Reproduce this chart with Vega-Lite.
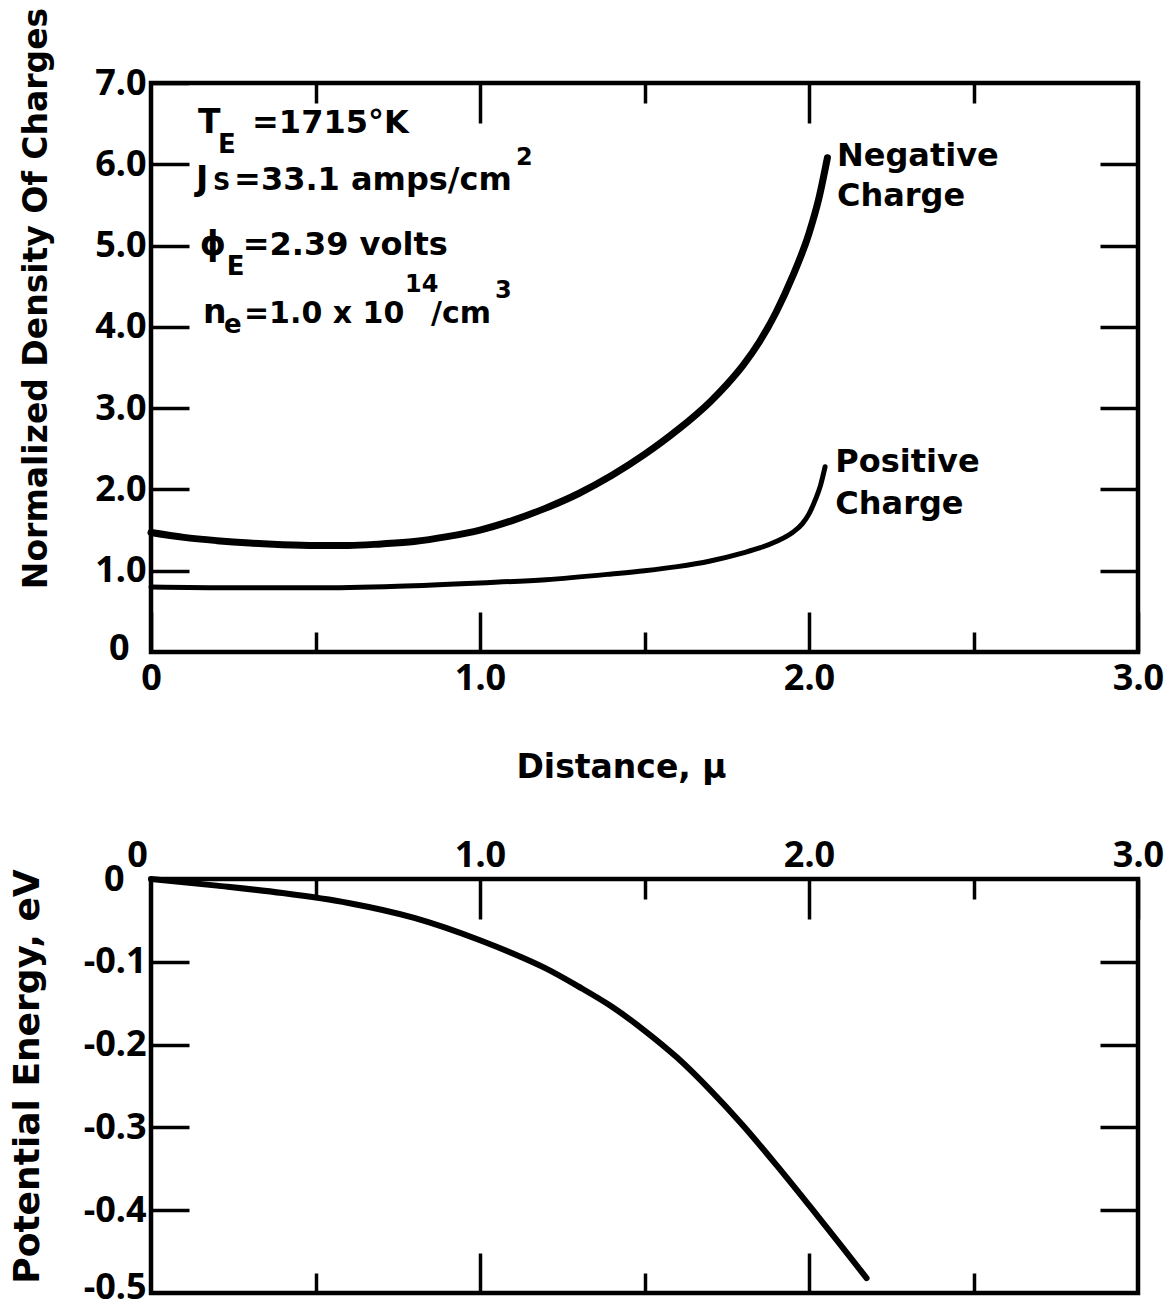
{
  "$schema": "https://vega.github.io/schema/vega-lite/v6.json",
  "background": "white",
  "padding": {"left": 6, "top": 5, "right": 5, "bottom": 0},
  "datasets": {
    "density": [
      {"d": 0, "n": 1.47, "series": "Negative"},
      {"d": 0.1, "n": 1.41, "series": "Negative"},
      {"d": 0.2, "n": 1.37, "series": "Negative"},
      {"d": 0.3, "n": 1.34, "series": "Negative"},
      {"d": 0.4, "n": 1.32, "series": "Negative"},
      {"d": 0.5, "n": 1.31, "series": "Negative"},
      {"d": 0.6, "n": 1.31, "series": "Negative"},
      {"d": 0.7, "n": 1.33, "series": "Negative"},
      {"d": 0.8, "n": 1.36, "series": "Negative"},
      {"d": 0.9, "n": 1.42, "series": "Negative"},
      {"d": 1.0, "n": 1.50, "series": "Negative"},
      {"d": 1.1, "n": 1.62, "series": "Negative"},
      {"d": 1.2, "n": 1.77, "series": "Negative"},
      {"d": 1.3, "n": 1.95, "series": "Negative"},
      {"d": 1.4, "n": 2.17, "series": "Negative"},
      {"d": 1.5, "n": 2.43, "series": "Negative"},
      {"d": 1.6, "n": 2.73, "series": "Negative"},
      {"d": 1.7, "n": 3.08, "series": "Negative"},
      {"d": 1.75, "n": 3.29, "series": "Negative"},
      {"d": 1.8, "n": 3.53, "series": "Negative"},
      {"d": 1.85, "n": 3.82, "series": "Negative"},
      {"d": 1.9, "n": 4.18, "series": "Negative"},
      {"d": 1.95, "n": 4.62, "series": "Negative"},
      {"d": 2.0, "n": 5.15, "series": "Negative"},
      {"d": 2.03, "n": 5.58, "series": "Negative"},
      {"d": 2.056, "n": 6.08, "series": "Negative"},
      {"d": 0, "n": 0.80, "series": "Positive"},
      {"d": 0.25, "n": 0.79, "series": "Positive"},
      {"d": 0.5, "n": 0.79, "series": "Positive"},
      {"d": 0.75, "n": 0.81, "series": "Positive"},
      {"d": 1.0, "n": 0.85, "series": "Positive"},
      {"d": 1.2, "n": 0.89, "series": "Positive"},
      {"d": 1.4, "n": 0.96, "series": "Positive"},
      {"d": 1.5, "n": 1.00, "series": "Positive"},
      {"d": 1.6, "n": 1.05, "series": "Positive"},
      {"d": 1.7, "n": 1.12, "series": "Positive"},
      {"d": 1.8, "n": 1.22, "series": "Positive"},
      {"d": 1.85, "n": 1.28, "series": "Positive"},
      {"d": 1.9, "n": 1.36, "series": "Positive"},
      {"d": 1.95, "n": 1.47, "series": "Positive"},
      {"d": 1.98, "n": 1.58, "series": "Positive"},
      {"d": 2.0, "n": 1.70, "series": "Positive"},
      {"d": 2.02, "n": 1.88, "series": "Positive"},
      {"d": 2.035, "n": 2.05, "series": "Positive"},
      {"d": 2.049, "n": 2.28, "series": "Positive"}
    ],
    "potential": [
      {"d": 0, "pe": 0},
      {"d": 0.2, "pe": -0.008},
      {"d": 0.4, "pe": -0.017},
      {"d": 0.6, "pe": -0.029},
      {"d": 0.8, "pe": -0.047},
      {"d": 1.0, "pe": -0.074},
      {"d": 1.1, "pe": -0.090},
      {"d": 1.2, "pe": -0.108},
      {"d": 1.3, "pe": -0.130},
      {"d": 1.4, "pe": -0.154},
      {"d": 1.5, "pe": -0.183},
      {"d": 1.6, "pe": -0.216},
      {"d": 1.7, "pe": -0.255},
      {"d": 1.8, "pe": -0.298},
      {"d": 1.9, "pe": -0.345},
      {"d": 2.0, "pe": -0.394},
      {"d": 2.1, "pe": -0.444},
      {"d": 2.175, "pe": -0.482}
    ]
  },
  "spacing": 47,
  "vconcat": [
    {
      "width": 987,
      "height": 569,
      "resolve": {"axis": {"x": "independent", "y": "independent"}},
      "layer": [
        {
          "data": {"name": "density"},
          "transform": [{"filter": "datum.series == 'Negative'"}],
          "mark": {"type": "line", "color": "black", "strokeWidth": 7, "interpolate": "monotone", "strokeCap": "round"},
          "encoding": {
            "x": {"field": "d", "type": "quantitative", "scale": {"domain": [0, 3], "nice": false, "zero": false},
              "axis": {"orient": "bottom", "values": [0, 1, 2, 3], "tickSize": -40, "labelPadding": 49,
                "labelExpr": "datum.value == 0 ? '0' : format(datum.value, '.1f')",
                "title": "Distance, μ", "titlePadding": 55, "titleX": 470}},
            "y": {"field": "n", "type": "quantitative", "scale": {"domain": [0, 7], "nice": false},
              "axis": {"orient": "left", "values": [1, 2, 3, 4, 5, 6, 7], "tickSize": -38, "labelPadding": 43,
                "labelExpr": "format(datum.value, '.1f')",
                "title": "Normalized Density Of Charges", "titleX": -105, "titleY": 215,
                "titleAlign": "center", "titleBaseline": "alphabetic", "titleAngle": 270}}
          }
        },
        {
          "data": {"name": "density"},
          "transform": [{"filter": "datum.series == 'Positive'"}],
          "mark": {"type": "line", "color": "black", "strokeWidth": 5, "interpolate": "monotone", "strokeCap": "round"},
          "encoding": {
            "x": {"field": "d", "type": "quantitative", "scale": {"domain": [0, 3], "nice": false, "zero": false},
              "axis": {"orient": "bottom", "values": [0.5, 1.5, 2.5], "tickSize": -20, "labels": false, "title": null}},
            "y": {"field": "n", "type": "quantitative", "scale": {"domain": [0, 7], "nice": false},
              "axis": {"orient": "right", "values": [1, 2, 3, 4, 5, 6], "tickSize": -38, "labels": false, "title": null}}
          }
        },
        {
          "data": {"values": [{}]},
          "mark": {"type": "text", "text": ["Negative", "Charge"], "align": "left", "baseline": "alphabetic", "fontSize": 32, "lineHeight": 40},
          "encoding": {
            "x": {"datum": 2.085, "type": "quantitative", "scale": {"domain": [0, 3], "nice": false, "zero": false},
              "axis": {"orient": "top", "values": [1, 2], "tickSize": -40, "labels": false, "title": null}},
            "y": {"datum": 5.98, "type": "quantitative", "scale": {"domain": [0, 7], "nice": false},
              "axis": {"orient": "left", "values": [0], "ticks": false, "labelPadding": 22, "labelExpr": "'0'", "labelBaseline": "bottom", "labelOffset": 15, "title": null}}
          }
        },
        {
          "data": {"values": [{}]},
          "mark": {"type": "text", "text": ["Positive", "Charge"], "align": "left", "baseline": "alphabetic", "fontSize": 32, "lineHeight": 42},
          "encoding": {
            "x": {"datum": 2.08, "type": "quantitative", "scale": {"domain": [0, 3], "nice": false, "zero": false},
              "axis": {"orient": "top", "values": [0.5, 1.5, 2.5], "tickSize": -20, "labels": false, "title": null}},
            "y": {"datum": 2.21, "type": "quantitative", "scale": {"domain": [0, 7], "nice": false}, "axis": null}
          }
        },
        {
          "data": {"values": [{}]},
          "encoding": {
            "x": {"datum": 0.143, "type": "quantitative", "scale": {"domain": [0, 3], "nice": false, "zero": false}, "axis": null},
            "y": {"datum": 6.384, "type": "quantitative", "scale": {"domain": [0, 7], "nice": false}, "axis": null}
          },
          "layer": [
            {"mark": {"type": "text", "text": "T", "align": "left", "baseline": "alphabetic", "fontSize": 33}},
            {"mark": {"type": "text", "text": "E", "align": "left", "baseline": "alphabetic", "fontSize": 26, "dx": 20, "dy": 20}},
            {"mark": {"type": "text", "text": "=1715°K", "align": "left", "baseline": "alphabetic", "fontSize": 32, "dx": 54}}
          ]
        },
        {
          "data": {"values": [{}]},
          "encoding": {
            "x": {"datum": 0.137, "type": "quantitative", "scale": {"domain": [0, 3], "nice": false, "zero": false}, "axis": null},
            "y": {"datum": 5.683, "type": "quantitative", "scale": {"domain": [0, 7], "nice": false}, "axis": null}
          },
          "layer": [
            {"mark": {"type": "text", "text": "J", "align": "left", "baseline": "alphabetic", "fontSize": 33}},
            {"mark": {"type": "text", "text": "S", "align": "left", "baseline": "alphabetic", "fontSize": 24, "dx": 17, "dy": 0}},
            {"mark": {"type": "text", "text": "=33.1 amps/cm", "align": "left", "baseline": "alphabetic", "fontSize": 32, "dx": 38}},
            {"mark": {"type": "text", "text": "2", "align": "left", "baseline": "alphabetic", "fontSize": 24, "dx": 320, "dy": -25}}
          ]
        },
        {
          "data": {"values": [{}]},
          "encoding": {
            "x": {"datum": 0.148, "type": "quantitative", "scale": {"domain": [0, 3], "nice": false, "zero": false}, "axis": null},
            "y": {"datum": 4.883, "type": "quantitative", "scale": {"domain": [0, 7], "nice": false}, "axis": null}
          },
          "layer": [
            {"mark": {"type": "text", "text": "ϕ", "align": "left", "baseline": "alphabetic", "fontSize": 33}},
            {"mark": {"type": "text", "text": "E", "align": "left", "baseline": "alphabetic", "fontSize": 26, "dx": 27, "dy": 20}},
            {"mark": {"type": "text", "text": "=2.39 volts", "align": "left", "baseline": "alphabetic", "fontSize": 32, "dx": 43}}
          ]
        },
        {
          "data": {"values": [{}]},
          "encoding": {
            "x": {"datum": 0.158, "type": "quantitative", "scale": {"domain": [0, 3], "nice": false, "zero": false}, "axis": null},
            "y": {"datum": 4.047, "type": "quantitative", "scale": {"domain": [0, 7], "nice": false}, "axis": null}
          },
          "layer": [
            {"mark": {"type": "text", "text": "n", "align": "left", "baseline": "alphabetic", "fontSize": 33}},
            {"mark": {"type": "text", "text": "e", "align": "left", "baseline": "alphabetic", "fontSize": 26, "dx": 21, "dy": 10}},
            {"mark": {"type": "text", "text": "=1.0 x 10", "align": "left", "baseline": "alphabetic", "fontSize": 30, "dx": 41}},
            {"mark": {"type": "text", "text": "14", "align": "left", "baseline": "alphabetic", "fontSize": 24, "dx": 202, "dy": -31}},
            {"mark": {"type": "text", "text": "/cm", "align": "left", "baseline": "alphabetic", "fontSize": 30, "dx": 228}},
            {"mark": {"type": "text", "text": "3", "align": "left", "baseline": "alphabetic", "fontSize": 24, "dx": 292, "dy": -25}}
          ]
        }
      ]
    },
    {
      "width": 987,
      "height": 414,
      "data": {"name": "potential"},
      "resolve": {"axis": {"x": "independent", "y": "independent"}},
      "layer": [
        {
          "mark": {"type": "line", "color": "black", "strokeWidth": 6, "interpolate": "monotone", "strokeCap": "round"},
          "encoding": {
            "x": {"field": "d", "type": "quantitative", "scale": {"domain": [0, 3], "nice": false, "zero": false},
              "axis": {"orient": "top", "values": [1, 2, 3], "tickSize": -40, "labelPadding": 45,
                "labelExpr": "format(datum.value, '.1f')", "title": null}},
            "y": {"field": "pe", "type": "quantitative", "scale": {"domain": [-0.5, 0], "nice": false, "zero": false},
              "axis": {"orient": "left", "values": [-0.1, -0.2, -0.3, -0.4], "tickSize": -38, "labelPadding": 43,
                "labelExpr": "'-' + format(-datum.value, '.1f')",
                "title": "Potential Energy, eV", "titleFontSize": 36, "titleX": -113, "titleY": 197,
                "titleAlign": "center", "titleBaseline": "alphabetic", "titleAngle": 270}}
          }
        },
        {
          "mark": {"type": "line", "color": "black", "strokeWidth": 6, "opacity": 0},
          "encoding": {
            "x": {"field": "d", "type": "quantitative", "scale": {"domain": [0, 3], "nice": false, "zero": false},
              "axis": {"orient": "top", "values": [0.5, 1.5, 2.5], "tickSize": -20, "labels": false, "title": null}},
            "y": {"field": "pe", "type": "quantitative", "scale": {"domain": [-0.5, 0], "nice": false, "zero": false},
              "axis": {"orient": "right", "values": [-0.1, -0.2, -0.3, -0.4], "tickSize": -38, "labels": false, "title": null}}
          }
        },
        {
          "mark": {"type": "line", "color": "black", "strokeWidth": 6, "opacity": 0},
          "encoding": {
            "x": {"field": "d", "type": "quantitative", "scale": {"domain": [0, 3], "nice": false, "zero": false},
              "axis": {"orient": "bottom", "values": [1, 2], "tickSize": -40, "labels": false, "title": null}},
            "y": {"field": "pe", "type": "quantitative", "scale": {"domain": [-0.5, 0], "nice": false, "zero": false},
              "axis": {"orient": "left", "values": [0], "ticks": false, "labelPadding": 27, "labelExpr": "'0'", "title": null}}
          }
        },
        {
          "mark": {"type": "line", "color": "black", "strokeWidth": 6, "opacity": 0},
          "encoding": {
            "x": {"field": "d", "type": "quantitative", "scale": {"domain": [0, 3], "nice": false, "zero": false},
              "axis": {"orient": "bottom", "values": [0.5, 1.5, 2.5], "tickSize": -20, "labels": false, "title": null}},
            "y": {"field": "pe", "type": "quantitative", "scale": {"domain": [-0.5, 0], "nice": false, "zero": false},
              "axis": {"orient": "left", "values": [-0.5], "ticks": false, "labelPadding": 5, "labelOffset": -6, "labelExpr": "'-0.5'", "title": null}}
          }
        },
        {
          "mark": {"type": "line", "color": "black", "strokeWidth": 6, "opacity": 0},
          "encoding": {
            "x": {"field": "d", "type": "quantitative", "scale": {"domain": [0, 3], "nice": false, "zero": false},
              "axis": {"orient": "top", "values": [0], "ticks": false, "labelPadding": 5, "labelOffset": -14, "labelExpr": "'0'", "title": null}},
            "y": {"field": "pe", "type": "quantitative", "scale": {"domain": [-0.5, 0], "nice": false, "zero": false}, "axis": null}
          }
        }
      ]
    }
  ],
  "config": {
    "view": {"stroke": "black", "strokeWidth": 4.5},
    "axis": {
      "domain": false, "grid": false, "tickColor": "black", "tickWidth": 3.5,
      "labelFont": "Noto Sans", "labelFontWeight": "bold", "labelFontSize": 36, "labelColor": "black",
      "labelFlush": false, "labelOverlap": false,
      "titleFont": "DejaVu Sans", "titleFontWeight": "bold", "titleFontSize": 33, "titleColor": "black"
    },
    "text": {"font": "DejaVu Sans", "fontWeight": "bold", "color": "black"}
  }
}
